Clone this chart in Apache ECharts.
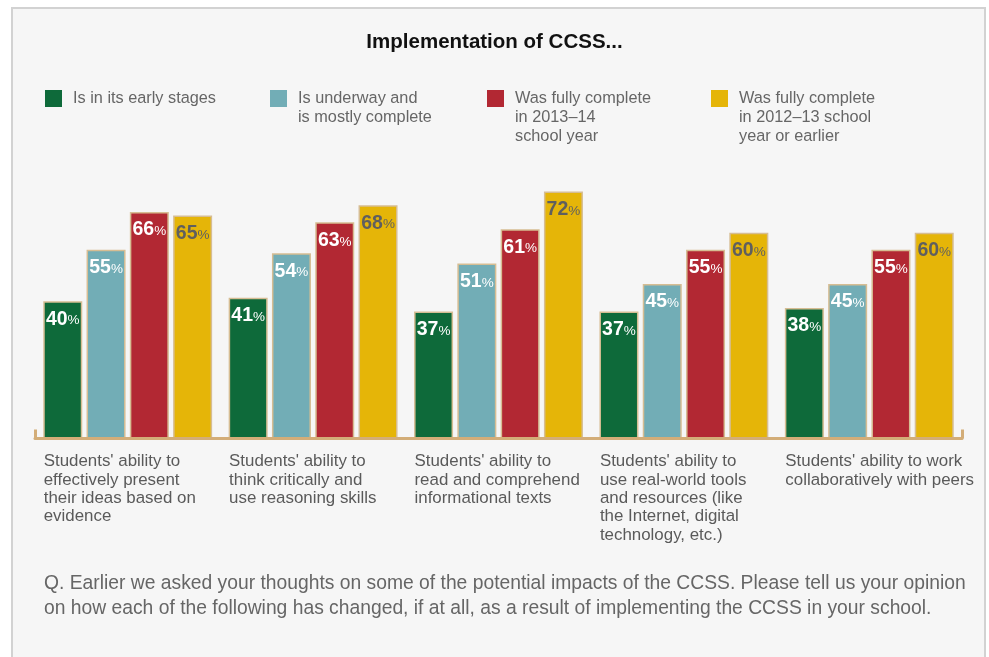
<!DOCTYPE html>
<html>
<head>
<meta charset="utf-8">
<title>Implementation of CCSS</title>
<script src="https://cdn.jsdelivr.net/npm/echarts@6/dist/echarts.min.js"></script>
<style>
  html, body { margin: 0; padding: 0; background: #ffffff; }
  #chart { width: 989px; height: 657px; }
</style>
</head>
<body>
<div id="chart"></div>
<script>
// Outcome categories (x axis)
const categories = [
  "Students' ability to\neffectively present\ntheir ideas based on\nevidence",
  "Students' ability to\nthink critically and\nuse reasoning skills",
  "Students' ability to\nread and comprehend\ninformational texts",
  "Students' ability to\nuse real-world tools\nand resources (like\nthe Internet, digital\ntechnology, etc.)",
  "Students' ability to work\ncollaboratively with peers"
];

// Implementation stage names (legend)
const seriesNames = [
  "Is in its early stages",
  "Is underway and\nis mostly complete",
  "Was fully complete\nin 2013\u201314\nschool year",
  "Was fully complete\nin 2012\u201313 school\nyear or earlier"
];

// Percent of respondents reporting improvement, per stage
const earlyStages     = [40, 41, 37, 37, 38];
const mostlyComplete  = [55, 54, 51, 45, 45];
const complete2013_14 = [66, 63, 61, 55, 55];
const complete2012_13 = [65, 68, 72, 60, 60];

const seriesValues = [earlyStages, mostlyComplete, complete2013_14, complete2012_13];

const colors = ['#0e6a3a', '#72adb6', '#b22833', '#e5b508'];
const labelColors = ['#ffffff', '#ffffff', '#ffffff', '#5f5f5f'];
const legendLefts = [45, 270, 487, 711];

const FONT = '"Liberation Sans", Arial, sans-serif';
const AXIS_TAN = '#d3ad78';

const chart = echarts.init(document.getElementById('chart'), null, { renderer: 'canvas' });

// One legend block per stage so each can sit at its own column.
// Blank lines are prepended so the icon lines up with the first text line.
const legends = seriesNames.map(function (name, i) {
  const lines = name.split('\n').length;
  return {
    data: [name],
    left: legendLefts[i],
    top: 89 - 19 * (lines - 1),
    orient: 'vertical',
    padding: 0,
    itemWidth: 17,
    itemHeight: 17,
    icon: 'rect',
    selectedMode: false,
    itemStyle: { borderWidth: 0 },
    formatter: function (n) {
      return new Array(lines).join('\n') + n;
    },
    textStyle: {
      fontFamily: FONT,
      fontSize: 16.3,
      color: '#666666',
      lineHeight: 19,
      padding: [0, 0, 0, 6]
    }
  };
});

const series = seriesNames.map(function (name, i) {
  return {
    name: name,
    type: 'bar',
    data: seriesValues[i],
    barWidth: 39,
    barGap: '11%',
    itemStyle: {
      color: colors[i],
      borderColor: '#d6bd93',
      borderWidth: 1.5
    },
    label: {
      show: true,
      position: 'insideTop',
      distance: 7,
      formatter: function (p) { return '{n|' + p.value + '}{p|%}'; },
      rich: {
        n: { fontFamily: FONT, fontSize: 19.5, fontWeight: 'bold', color: labelColors[i], lineHeight: 22 },
        p: { fontFamily: FONT, fontSize: 13.5, color: labelColors[i], lineHeight: 22, padding: [3, 0, 0, 0] }
      }
    }
  };
});

const option = {
  backgroundColor: '#ffffff',
  animation: false,
  color: colors,
  textStyle: { fontFamily: FONT },
  graphic: [{
    type: 'rect',
    z: -100,
    silent: true,
    shape: { x: 12, y: 8, width: 973, height: 720 },
    style: { fill: '#f6f6f6', stroke: '#d2d2d2', lineWidth: 2 }
  }],
  title: [{
    text: 'Implementation of CCSS...',
    left: 'center',
    top: 31,
    padding: 0,
    textStyle: { fontFamily: FONT, fontSize: 20.5, fontWeight: 'bold', color: '#111111', lineHeight: 22 }
  }, {
    text: 'Q. Earlier we asked your thoughts on some of the potential impacts of the CCSS. Please tell us your opinion\non how each of the following has changed, if at all, as a result of implementing the CCSS in your school.',
    left: 44,
    top: 571,
    padding: 0,
    textStyle: { fontFamily: FONT, fontSize: 19.3, fontWeight: 'normal', color: '#666666', lineHeight: 25 }
  }],
  legend: legends,
  grid: { left: 35, right: 27, top: 164, bottom: 218.5, containLabel: false },
  xAxis: {
    type: 'category',
    data: categories,
    boundaryGap: true,
    axisLine: { show: true, lineStyle: { color: AXIS_TAN, width: 3 } },
    axisTick: {
      show: true,
      inside: true,
      length: 9,
      interval: function (index) { return index === 0; },
      lineStyle: { color: AXIS_TAN, width: 3 }
    },
    axisLabel: {
      interval: 0,
      margin: 14,
      align: 'center',
      formatter: function (v) {
        return v.split('\n').map(function (l) { return '{a|' + l + '}'; }).join('\n');
      },
      rich: {
        a: { width: 168, align: 'left', fontFamily: FONT, fontSize: 16.9, color: '#5a5a5a', lineHeight: 18.3 }
      }
    },
    z: 10
  },
  yAxis: {
    type: 'value',
    min: 0,
    max: 80,
    show: false,
    splitLine: { show: false }
  },
  series: series
};

chart.setOption(option);
</script>
</body>
</html>
